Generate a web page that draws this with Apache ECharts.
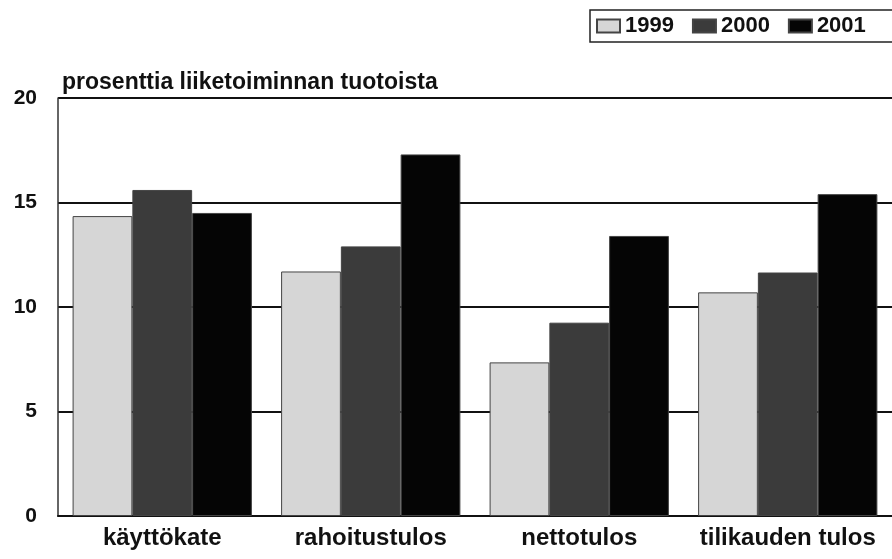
<!DOCTYPE html>
<html>
<head>
<meta charset="utf-8">
<script src="https://cdn.jsdelivr.net/npm/echarts@6/dist/echarts.min.js"></script>
<style>
  html, body { margin: 0; padding: 0; background: #fff; }
  #chart { width: 892px; height: 559px; }
</style>
</head>
<body>
<div id="chart"></div>
<script>
// luokat ja arvot (prosenttia liiketoiminnan tuotoista)
const categories = ['käyttökate', 'rahoitustulos', 'nettotulos', 'tilikauden tulos'];
const years = ['1999', '2000', '2001'];
const v1999 = [14.35, 11.7, 7.35, 10.7];
const v2000 = [15.6, 12.9, 9.25, 11.65];
const v2001 = [14.5, 17.3, 13.4, 15.4];
const yTicks = [0, 5, 10, 15, 20];

const colors = ['#d6d6d6', '#3b3b3b', '#050505'];
const font = 'Arial, "Liberation Sans", sans-serif';

const chart = echarts.init(document.getElementById('chart'));
const seriesData = [v1999, v2000, v2001];

chart.setOption({
    animation: false,
    backgroundColor: '#fff',
    title: {
        text: 'prosenttia liiketoiminnan tuotoista',
        left: 57,
        top: 66,
        textStyle: { fontFamily: font, fontSize: 23, fontWeight: 'bold', color: '#111' }
    },
    legend: {
        data: years,
        left: 590,
        top: 10,
        width: 340,
        itemGap: 18,
        itemWidth: 23,
        itemHeight: 13,
        padding: [5, 30, 5, 6],
        borderColor: '#222',
        borderWidth: 1.5,
        icon: 'rect',
        textStyle: { fontFamily: font, fontSize: 22, fontWeight: 'bold', color: '#111' }
    },
    grid: { left: 58, right: -2, top: 98, bottom: 43 },
    xAxis: {
        type: 'category',
        data: categories,
        axisLine: { show: true, lineStyle: { color: '#111', width: 2 } },
        axisTick: { show: false },
        axisLabel: {
            interval: 0,
            margin: 10,
            fontFamily: font,
            fontSize: 24,
            fontWeight: 'bold',
            color: '#111'
        }
    },
    yAxis: {
        type: 'value',
        min: yTicks[0],
        max: yTicks[yTicks.length - 1],
        interval: 5,
        axisLine: { show: true, lineStyle: { color: '#333', width: 1.5 } },
        axisTick: { show: false },
        splitLine: { lineStyle: { color: '#111', width: 2 } },
        axisLabel: {
            margin: 21,
            fontFamily: font,
            fontSize: 21,
            fontWeight: 'bold',
            color: '#111'
        }
    },
    series: years.map((y, i) => ({
        name: y,
        type: 'bar',
        data: seriesData[i],
        barGap: '0%',
        barCategoryGap: '14%',
        itemStyle: { color: colors[i], borderColor: '#444', borderWidth: 1 }
    }))
});
</script>
</body>
</html>
